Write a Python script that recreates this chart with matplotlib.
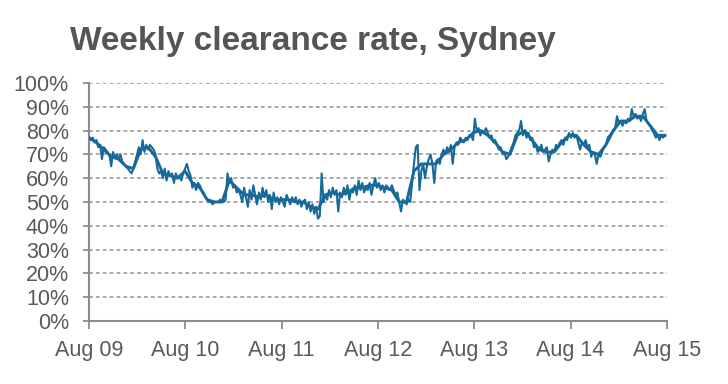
#!/usr/bin/env python3
"""Weekly clearance rate, Sydney: weekly series plus its smoothed trend."""

import numpy as np
import pandas as pd
import matplotlib
matplotlib.use("Agg")
import matplotlib.pyplot as plt

# weekly clearance rate (%), one value per week from Aug 2009
weekly_0910 = [77, 76, 77, 75, 76, 73, 74, 68, 73, 72, 71,
               70, 65, 71, 69, 70, 68, 70, 67, 66, 65,
               64, 63, 62, 64, 67, 70, 73, 70, 76,
               71, 74, 72, 74, 73, 72, 70, 64, 62,
               63, 60, 64, 59, 63, 61, 62, 58, 62, 60, 61, 59, 62]
weekly_1011 = [64, 66, 63, 61, 56, 58, 55, 58, 57,
               55, 54, 52, 51, 50,
               50, 49, 50, 50, 50, 51, 50, 50, 51,
               62,
               58, 60, 56, 57, 54, 55,
               53, 50, 56, 52, 48, 55, 51, 57, 53, 49,
               54, 51, 56, 52, 55, 50, 53, 47, 54, 50, 52, 49]
weekly_1112 = [52, 50, 48, 53, 51, 49, 52,
               50, 52, 49, 51, 48, 50, 51,
               47, 50, 46, 49, 45, 48, 43, 44, 62,
               50, 53, 51, 55, 52,
               56, 53, 55, 46, 54,
               52, 56, 53, 57, 51, 55, 54,
               57, 53, 59, 55, 58, 54, 56,
               55, 58, 53, 57, 60]
weekly_1213 = [56, 58, 55, 57, 54, 57, 56, 55,
               57, 55, 53, 54,
               50, 46,
               51, 50, 49, 51,
               50, 58, 66, 73, 74, 55,
               63, 66, 60, 65, 68,
               70, 66, 58, 67,
               68, 66, 70, 72, 70,
               73, 71, 74, 66, 73,
               75, 74, 77, 76, 75, 77, 76, 78, 78]
weekly_1314 = [76, 85, 80, 81, 78, 80, 79, 81,
               79, 77, 78, 75, 76,
               74, 72, 73, 70, 71,
               68, 69, 71,
               73, 75, 78, 79, 80,
               84,
               78, 80, 77, 79, 76,
               77, 73, 74, 71, 72,
               74, 71, 72, 73,
               67,
               70, 72, 71, 74, 73,
               75, 76, 74, 77, 76]
weekly_1415 = [79, 77, 79, 77, 78, 75,
               72, 75, 74,
               76, 73, 74,
               69, 71, 70,
               66,
               70, 69, 71,
               73, 74, 77, 78, 79, 80, 81,
               86,
               83, 84, 82, 84, 83, 85,
               84, 89,
               86, 87, 85, 86, 84,
               87, 89,
               84, 83, 82, 80, 79,
               77, 78, 76, 78, 77, 78]

# smoothed trend (%), read every 4 weeks from Aug 2009
trend = [77, 75, 72, 69, 68, 65, 64, 72, 73, 69,
         62, 61, 60, 63, 58, 56, 51, 50, 50, 59,
         56, 53, 53, 52, 53, 51, 51, 51, 50, 50,
         48, 47, 53, 54, 53, 54, 56, 56, 57, 57,
         56, 55, 50, 50, 63, 66, 66, 66, 70, 72,
         75, 76, 79, 80, 78, 75, 71, 70, 78, 80,
         76, 72, 71, 71, 75, 78, 78, 74, 71, 70,
         74, 80, 84, 84, 86, 86, 82, 78, 78]

year_labels = ["Aug 09", "Aug 10", "Aug 11", "Aug 12", "Aug 13", "Aug 14", "Aug 15"]

weekly = (weekly_0910 + weekly_1011 + weekly_1112 +
          weekly_1213 + weekly_1314 + weekly_1415)
week_dates = pd.date_range("2009-08-01", periods=len(weekly), freq="7D")
trend_dates = week_dates[::4][:len(trend)]
tick_dates = pd.to_datetime([f"20{lab[-2:]}-08-01" for lab in year_labels])

LINE = "#17699a"
GREY = "#8c8c8c"
TEXT = "#595959"

plt.rcParams["font.family"] = ["Liberation Sans", "DejaVu Sans"]

fig = plt.figure(figsize=(7.28, 3.84), dpi=100)
ax = fig.add_axes([0.1223, 0.164, 0.7937, 0.620])

ax.plot(week_dates, weekly, color=LINE, lw=1.5, zorder=3)
ax.plot(trend_dates, trend, color=LINE, lw=2.1, zorder=3)

ax.set_ylim(0, 100)
ax.set_yticks(np.arange(0, 101, 10))
ax.set_yticklabels([f"{v}%" for v in range(0, 101, 10)])
ax.set_xlim(tick_dates[0], tick_dates[-1])
ax.set_xticks(tick_dates)
ax.set_xticklabels(year_labels)

# dotted horizontal gridlines (not at 0, the axis sits there)
for v in range(10, 101, 10):
    ax.axhline(v, color="#939393", lw=1.1, ls=(0, (2.5, 2)), zorder=1)

for side in ("top", "right"):
    ax.spines[side].set_visible(False)
for side in ("left", "bottom"):
    ax.spines[side].set_color(GREY)
    ax.spines[side].set_linewidth(1.5)

ax.tick_params(axis="y", length=4.5, width=1.3, color=GREY, pad=10,
               labelsize=15.5, labelcolor=TEXT)
ax.tick_params(axis="x", length=5.5, width=1.3, color=GREY, pad=8,
               labelsize=15.5, labelcolor=TEXT)

fig.text(70 / 728, 1 - 50 / 384, "Weekly clearance rate, Sydney",
         fontsize=24, fontweight="bold", color="#555555", ha="left", va="baseline")

fig.savefig("out.png", dpi=100)
print("Saved out.png")
